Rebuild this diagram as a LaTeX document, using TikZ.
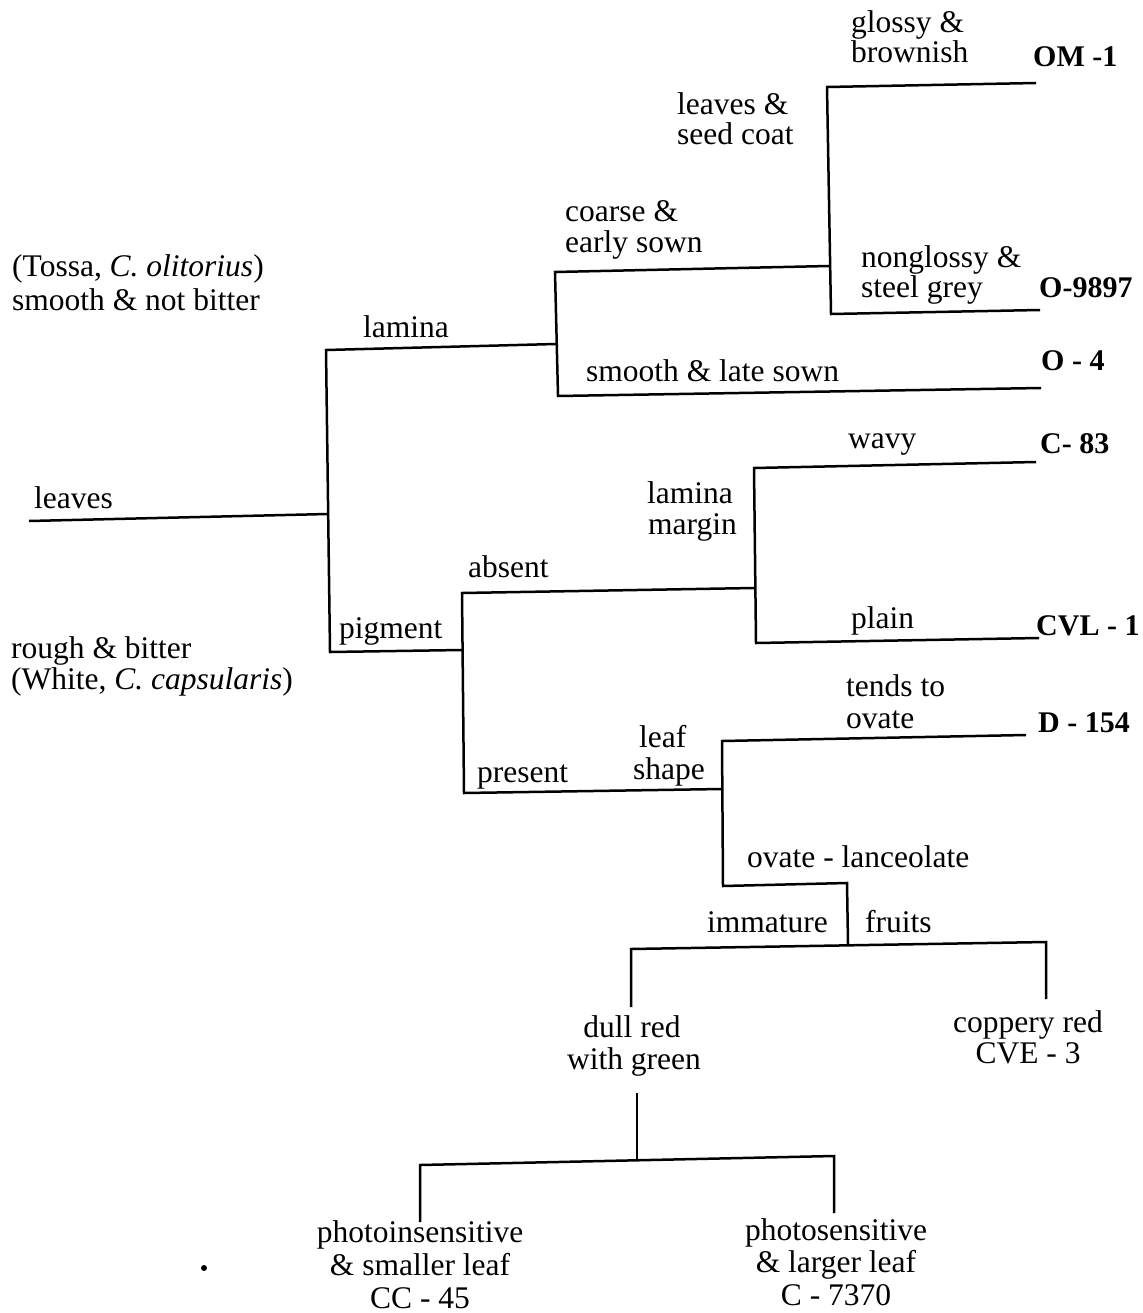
\documentclass[tikz,border=0pt]{standalone}
\usepackage{fontspec}
\setmainfont{Liberation Serif}
\begin{document}
\begin{tikzpicture}[x=1pt,y=-1pt,
  br/.style={line width=2.5pt, line join=miter, line cap=butt},
  lbl/.style={inner sep=0pt, anchor=base west, font=\fontsize{31.5}{32}\selectfont},
  clbl/.style={inner sep=0pt, anchor=base, font=\fontsize{31.5}{32}\selectfont},
  cult/.style={inner sep=0pt, anchor=base west, font=\fontsize{30}{32}\selectfont\bfseries}]
\useasboundingbox (0,0) rectangle (1142,1313);

% ---- junction coordinates ----
\coordinate (r0) at (29,521);
\coordinate (r1) at (328,514);
\coordinate (v1t) at (326,350);
\coordinate (v1b) at (330,652);
\coordinate (j2) at (556,344);
\coordinate (v2t) at (555,272);
\coordinate (v2b) at (558,396);
\coordinate (j3) at (829,266);
\coordinate (v3t) at (827,87);
\coordinate (v3b) at (831,314);
\coordinate (e1) at (1036,83);
\coordinate (e2) at (1040,310);
\coordinate (e3) at (1041,388);
\coordinate (j4) at (462,650);
\coordinate (v4t) at (462,593);
\coordinate (v4b) at (464,793);
\coordinate (j5) at (754,588);
\coordinate (v5t) at (754,468);
\coordinate (v5b) at (756,643);
\coordinate (e4) at (1036,462);
\coordinate (e5) at (1039,638);
\coordinate (j6) at (722,789);
\coordinate (v6t) at (722,741);
\coordinate (v6b) at (723,886);
\coordinate (e6) at (1026,735);
\coordinate (k1) at (847,883);
\coordinate (j7) at (848,944);
\coordinate (f1) at (631,949);
\coordinate (f2) at (1046,942);
\coordinate (d1) at (631,1007);
\coordinate (d2) at (1046,999);
\coordinate (g1) at (637,1093);
\coordinate (j8) at (637,1160);
\coordinate (h1) at (420,1165);
\coordinate (h2) at (834,1156);
\coordinate (p1) at (420,1222);
\coordinate (p2) at (834,1213);

% ---- branches ----
\draw[br] (r0) -- (r1);
\draw[br] (j2) -- (v1t) -- (v1b) -- (j4);
\draw[br] (j3) -- (v2t) -- (v2b) -- (e3);
\draw[br] (e1) -- (v3t) -- (v3b) -- (e2);
\draw[br] (j5) -- (v4t) -- (v4b) -- (j6);
\draw[br] (e4) -- (v5t) -- (v5b) -- (e5);
\draw[br] (e6) -- (v6t) -- (v6b) -- (k1) -- (j7);
\draw[br] (d1) -- (f1) -- (f2) -- (d2);
\draw[br] (g1) -- (j8);
\draw[br] (p1) -- (h1) -- (h2) -- (p2);

% ---- labels ----
\node[lbl] (tossa1) at (12,277) {(Tossa, \textit{C. olitorius})};
\node[lbl] (tossa2) at (12,310) {smooth \& not bitter};
\node[lbl] (rough1) at (11,658) {rough \& bitter};
\node[lbl] (rough2) at (11,689) {(White, \textit{C. capsularis})};
\node[lbl] (leaves) at (34,508) {leaves};
\node[lbl] (lamina) at (363,337) {lamina};
\node[lbl] (pigment) at (339,638) {pigment};
\node[lbl] (coarse1) at (565,222) {coarse \&};
\node[lbl] (coarse2) at (565,253) {early sown};
\node[lbl] (lsc1) at (677,115) {leaves \&};
\node[lbl] (lsc2) at (677,145) {seed coat};
\node[lbl] (glossy1) at (851,33) {glossy \&};
\node[lbl] (glossy2) at (851,63) {brownish};
\node[lbl] (nong1) at (861,268) {nonglossy \&};
\node[lbl] (nong2) at (861,298) {steel grey};
\node[lbl] (smooth) at (586,381) {smooth \& late sown};
\node[cult] (om1) at (1033,67) {OM -1};
\node[cult] (o9897) at (1039,298) {O-9897};
\node[cult] (o4) at (1041,370) {O - 4};
\node[lbl] (wavy) at (848,448) {wavy};
\node[cult] (c83) at (1040,453) {C- 83};
\node[lbl] (lm1) at (647,503) {lamina};
\node[lbl] (lm2) at (648,534) {margin};
\node[lbl] (absent) at (468,577) {absent};
\node[lbl] (plain) at (851,628) {plain};
\node[cult] (cvl1) at (1036,635) {CVL - 1};
\node[lbl] (tends1) at (846,696) {tends to};
\node[lbl] (tends2) at (846,728) {ovate};
\node[cult] (d154) at (1038,732) {D - 154};
\node[lbl] (leaf1) at (639,747) {leaf};
\node[lbl] (leaf2) at (633,779) {shape};
\node[lbl] (present) at (477,782) {present};
\node[lbl] (ovlan) at (747,867) {ovate - lanceolate};
\node[lbl] (immature) at (707,932) {immature};
\node[lbl] (fruits) at (865,932) {fruits};
\node[clbl] (dull1) at (632,1037) {dull red};
\node[clbl] (dull2) at (634,1069) {with green};
\node[clbl] (copp1) at (1028,1032) {coppery red};
\node[clbl] (copp2) at (1028,1063) {CVE - 3};
\node[clbl] (pi1) at (420,1242) {photoinsensitive};
\node[clbl] (pi2) at (420,1275) {\& smaller leaf};
\node[clbl] (pi3) at (420,1308) {CC - 45};
\node[clbl] (ps1) at (836,1240) {photosensitive};
\node[clbl] (ps2) at (836,1272) {\& larger leaf};
\node[clbl] (ps3) at (836,1305) {C - 7370};
\fill (204,1268) circle (3);
\end{tikzpicture}
\end{document}
